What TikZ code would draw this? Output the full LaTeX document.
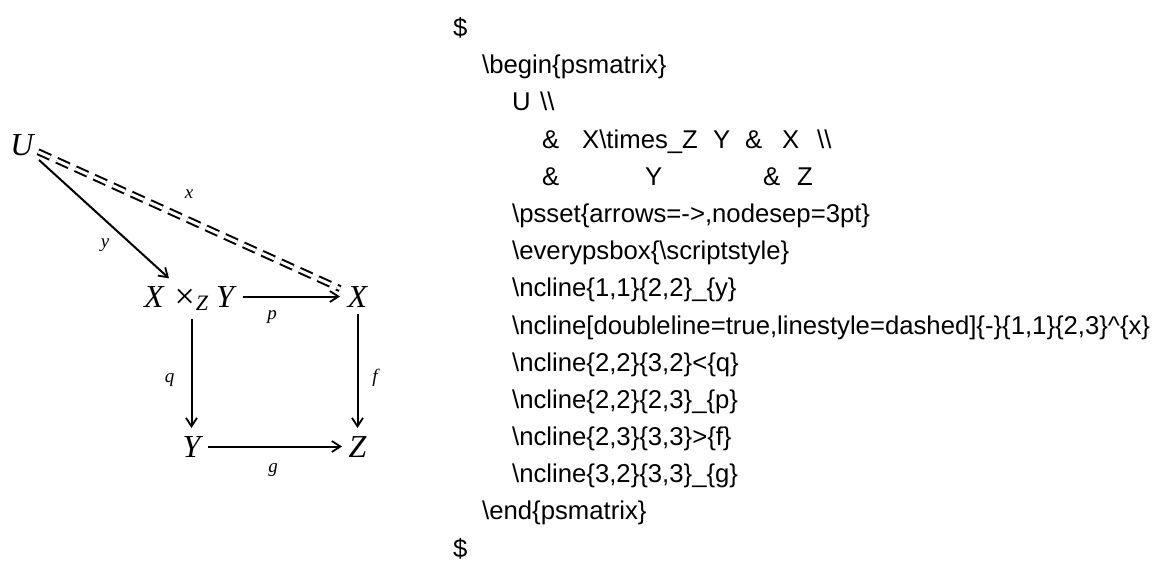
\documentclass[tikz,border=0pt]{standalone}
\usepackage{fontspec}
\setmainfont{Liberation Serif}
\newfontfamily\codefont{Liberation Sans}
\usetikzlibrary{arrows.meta}
\begin{document}
\begin{tikzpicture}[x=1pt,y=-1pt,
  math/.style={inner sep=0pt, font=\fontsize{32}{36}\selectfont\itshape, text height=21pt, text depth=0pt, anchor=base},
  lab/.style={inner sep=0pt, font=\fontsize{19}{21}\selectfont\itshape},
  code/.style={inner sep=0pt, anchor=base west, font=\fontsize{25.7}{30}\selectfont\codefont},
  arr/.style={line width=2pt, -{Straight Barb[length=8.5pt,width=11pt,line width=1.8pt]}},
  dbl/.style={line width=2pt, double distance=3pt, dash pattern=on 13.5pt off 7pt}
]
\useasboundingbox (0,0) rectangle (1164,574);

% diagram nodes
\node[math] (U) at (22,155) {U};
\node[math] (XZY) at (189,307) {X\hspace{11pt}\raisebox{-1pt}{\upshape\fontsize{36}{40}\selectfont ×}\hspace{1pt}\raisebox{-3pt}{\fontsize{22}{24}\selectfont Z}\hspace{8pt}Y};
\node[math] (X) at (357.5,307) {X};
\node[math] (Y) at (191.5,457) {Y};
\node[math] (Z) at (357.5,457) {Z};

% connectors
\draw[arr, shorten <=23pt, shorten >=27pt] (U.center) -- (XZY.center);
\draw[dbl, shorten <=17.6pt, shorten >=19.2pt] (U.center) -- (X.center);
\draw[arr, shorten <=54pt, shorten >=17.5pt] (XZY.center) -- (X.center);
\draw[arr, shorten <=22.5pt, shorten >=18.5pt] (Y.center |- XZY.center) -- (Y.center);
\draw[arr, shorten <=17.5pt, shorten >=18.5pt] (X.center) -- (Z.center);
\draw[arr, shorten <=16.5pt, shorten >=15.5pt] (Y.center) -- (Z.center);

% labels
\node[lab] (ly) at (105,245) {y};
\node[lab] (lx) at (189,194) {x};
\node[lab] (lp) at (272,317) {p};
\node[lab] (lq) at (169.5,380) {q};
\node[lab] (lf) at (375,378) {f};
\node[lab] (lg) at (273,470) {g};

% code listing
\node[code] (c1) at (453,36) {\$};
\node[code] (c2) at (482,73) {\textbackslash begin\{psmatrix\}};
\node[code] (c3a) at (512,110) {U};
\node[code] (c3b) at (540,110) {\textbackslash\textbackslash};
\node[code] (c4a) at (542,148) {\&};
\node[code] (c4b) at (582,148) {X\textbackslash times\_Z};
\node[code] (c4c) at (713,148) {Y};
\node[code] (c4d) at (745,148) {\&};
\node[code] (c4e) at (782,148) {X};
\node[code] (c4f) at (817,148) {\textbackslash\textbackslash};
\node[code] (c5a) at (542,185) {\&};
\node[code] (c5b) at (645,185) {Y};
\node[code] (c5c) at (763,185) {\&};
\node[code] (c5d) at (797,185) {Z};
\node[code] (c6) at (512,222) {\textbackslash psset\{arrows=->,nodesep=3pt\}};
\node[code] (c7) at (512,259) {\textbackslash everypsbox\{\textbackslash scriptstyle\}};
\node[code] (c8) at (512,296) {\textbackslash ncline\{1,1\}\{2,2\}\_\{y\}};
\node[code] (c9) at (512,334) {\textbackslash ncline[doubleline=true,linestyle=dashed]\{-\}\{1,1\}\{2,3\}\textasciicircum\{x\}};
\node[code] (c10) at (512,371) {\textbackslash ncline\{2,2\}\{3,2\}<\{q\}};
\node[code] (c11) at (512,408) {\textbackslash ncline\{2,2\}\{2,3\}\_\{p\}};
\node[code] (c12) at (512,445) {\textbackslash ncline\{2,3\}\{3,3\}>\{f\}};
\node[code] (c13) at (512,482) {\textbackslash ncline\{3,2\}\{3,3\}\_\{g\}};
\node[code] (c14) at (482,519) {\textbackslash end\{psmatrix\}};
\node[code] (c15) at (453,557) {\$};
\end{tikzpicture}
\end{document}
